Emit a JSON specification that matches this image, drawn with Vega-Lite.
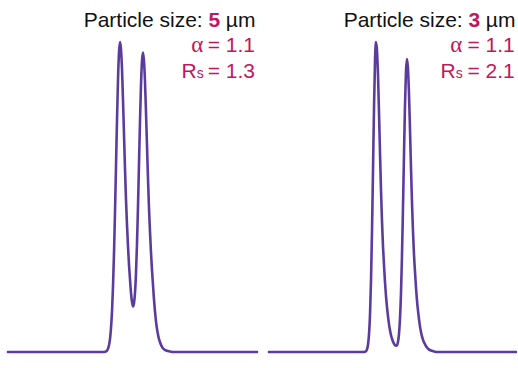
{
  "$schema": "https://vega.github.io/schema/vega-lite/v6.json",
  "width": 518,
  "height": 368,
  "autosize": {"type": "fit", "contains": "padding"},
  "padding": 0,
  "background": "white",
  "config": {"view": {"stroke": null}},
  "datasets": {
    "curves": [
      {"panel": "5 µm", "t": 8, "h": 0},
      {"panel": "5 µm", "t": 60, "h": 0},
      {"panel": "5 µm", "t": 104.5, "h": 0},
      {"panel": "5 µm", "t": 106.5, "h": 0.002},
      {"panel": "5 µm", "t": 107.5, "h": 0.005},
      {"panel": "5 µm", "t": 108.5, "h": 0.011},
      {"panel": "5 µm", "t": 109.5, "h": 0.023},
      {"panel": "5 µm", "t": 110.5, "h": 0.044},
      {"panel": "5 µm", "t": 111.5, "h": 0.08},
      {"panel": "5 µm", "t": 112.5, "h": 0.135},
      {"panel": "5 µm", "t": 113.5, "h": 0.217},
      {"panel": "5 µm", "t": 114.5, "h": 0.325},
      {"panel": "5 µm", "t": 115.5, "h": 0.458},
      {"panel": "5 µm", "t": 116.5, "h": 0.607},
      {"panel": "5 µm", "t": 117.5, "h": 0.755},
      {"panel": "5 µm", "t": 118.5, "h": 0.882},
      {"panel": "5 µm", "t": 119.5, "h": 0.969},
      {"panel": "5 µm", "t": 120.5, "h": 1},
      {"panel": "5 µm", "t": 121.5, "h": 0.975},
      {"panel": "5 µm", "t": 122.5, "h": 0.91},
      {"panel": "5 µm", "t": 123.5, "h": 0.81},
      {"panel": "5 µm", "t": 124.5, "h": 0.7},
      {"panel": "5 µm", "t": 125.5, "h": 0.59},
      {"panel": "5 µm", "t": 126.5, "h": 0.49},
      {"panel": "5 µm", "t": 127.5, "h": 0.41},
      {"panel": "5 µm", "t": 128.5, "h": 0.341},
      {"panel": "5 µm", "t": 129.5, "h": 0.282},
      {"panel": "5 µm", "t": 130.5, "h": 0.235},
      {"panel": "5 µm", "t": 131.5, "h": 0.191},
      {"panel": "5 µm", "t": 132.5, "h": 0.162},
      {"panel": "5 µm", "t": 133.5, "h": 0.147},
      {"panel": "5 µm", "t": 134.5, "h": 0.157},
      {"panel": "5 µm", "t": 135.5, "h": 0.19},
      {"panel": "5 µm", "t": 136.5, "h": 0.253},
      {"panel": "5 µm", "t": 137.5, "h": 0.346},
      {"panel": "5 µm", "t": 138.5, "h": 0.465},
      {"panel": "5 µm", "t": 139.5, "h": 0.601},
      {"panel": "5 µm", "t": 140.5, "h": 0.738},
      {"panel": "5 µm", "t": 141.5, "h": 0.857},
      {"panel": "5 µm", "t": 142.5, "h": 0.937},
      {"panel": "5 µm", "t": 143.5, "h": 0.966},
      {"panel": "5 µm", "t": 144.5, "h": 0.94},
      {"panel": "5 µm", "t": 145.5, "h": 0.877},
      {"panel": "5 µm", "t": 146.5, "h": 0.78},
      {"panel": "5 µm", "t": 147.5, "h": 0.673},
      {"panel": "5 µm", "t": 148.5, "h": 0.566},
      {"panel": "5 µm", "t": 149.5, "h": 0.47},
      {"panel": "5 µm", "t": 150.5, "h": 0.394},
      {"panel": "5 µm", "t": 151.5, "h": 0.326},
      {"panel": "5 µm", "t": 152.5, "h": 0.269},
      {"panel": "5 µm", "t": 153.5, "h": 0.221},
      {"panel": "5 µm", "t": 154.5, "h": 0.173},
      {"panel": "5 µm", "t": 155.5, "h": 0.134},
      {"panel": "5 µm", "t": 156.5, "h": 0.101},
      {"panel": "5 µm", "t": 157.5, "h": 0.077},
      {"panel": "5 µm", "t": 158.5, "h": 0.058},
      {"panel": "5 µm", "t": 159.5, "h": 0.043},
      {"panel": "5 µm", "t": 160.5, "h": 0.033},
      {"panel": "5 µm", "t": 161.5, "h": 0.024},
      {"panel": "5 µm", "t": 162.5, "h": 0.017},
      {"panel": "5 µm", "t": 163.5, "h": 0.012},
      {"panel": "5 µm", "t": 165.5, "h": 0.007},
      {"panel": "5 µm", "t": 168.5, "h": 0.003},
      {"panel": "5 µm", "t": 171.5, "h": 0.001},
      {"panel": "5 µm", "t": 174.5, "h": 0},
      {"panel": "5 µm", "t": 258, "h": 0},
      {"panel": "3 µm", "t": 270, "h": 0},
      {"panel": "3 µm", "t": 364.5, "h": 0},
      {"panel": "3 µm", "t": 366.5, "h": 0.001},
      {"panel": "3 µm", "t": 367.5, "h": 0.003},
      {"panel": "3 µm", "t": 368.5, "h": 0.0095},
      {"panel": "3 µm", "t": 369.5, "h": 0.025},
      {"panel": "3 µm", "t": 370.5, "h": 0.06},
      {"panel": "3 µm", "t": 371.5, "h": 0.126},
      {"panel": "3 µm", "t": 372.5, "h": 0.238},
      {"panel": "3 µm", "t": 373.5, "h": 0.399},
      {"panel": "3 µm", "t": 374.5, "h": 0.596},
      {"panel": "3 µm", "t": 375.5, "h": 0.795},
      {"panel": "3 µm", "t": 376.5, "h": 0.944},
      {"panel": "3 µm", "t": 377.5, "h": 1},
      {"panel": "3 µm", "t": 378.5, "h": 0.97},
      {"panel": "3 µm", "t": 379.5, "h": 0.89},
      {"panel": "3 µm", "t": 380.5, "h": 0.77},
      {"panel": "3 µm", "t": 381.5, "h": 0.64},
      {"panel": "3 µm", "t": 382.5, "h": 0.52},
      {"panel": "3 µm", "t": 383.5, "h": 0.42},
      {"panel": "3 µm", "t": 384.5, "h": 0.34},
      {"panel": "3 µm", "t": 385.5, "h": 0.28},
      {"panel": "3 µm", "t": 386.5, "h": 0.225},
      {"panel": "3 µm", "t": 387.5, "h": 0.18},
      {"panel": "3 µm", "t": 388.5, "h": 0.145},
      {"panel": "3 µm", "t": 389.5, "h": 0.115},
      {"panel": "3 µm", "t": 390.5, "h": 0.09},
      {"panel": "3 µm", "t": 391.5, "h": 0.07},
      {"panel": "3 µm", "t": 392.5, "h": 0.055},
      {"panel": "3 µm", "t": 393.5, "h": 0.043},
      {"panel": "3 µm", "t": 394.5, "h": 0.034},
      {"panel": "3 µm", "t": 395.5, "h": 0.027},
      {"panel": "3 µm", "t": 396.5, "h": 0.022},
      {"panel": "3 µm", "t": 397.5, "h": 0.02},
      {"panel": "3 µm", "t": 398.5, "h": 0.0215},
      {"panel": "3 µm", "t": 399.5, "h": 0.032},
      {"panel": "3 µm", "t": 400.5, "h": 0.057},
      {"panel": "3 µm", "t": 401.5, "h": 0.105},
      {"panel": "3 µm", "t": 402.5, "h": 0.185},
      {"panel": "3 µm", "t": 403.5, "h": 0.304},
      {"panel": "3 µm", "t": 404.5, "h": 0.456},
      {"panel": "3 µm", "t": 405.5, "h": 0.627},
      {"panel": "3 µm", "t": 406.5, "h": 0.786},
      {"panel": "3 µm", "t": 407.5, "h": 0.902},
      {"panel": "3 µm", "t": 408.5, "h": 0.945},
      {"panel": "3 µm", "t": 409.5, "h": 0.917},
      {"panel": "3 µm", "t": 410.5, "h": 0.841},
      {"panel": "3 µm", "t": 411.5, "h": 0.728},
      {"panel": "3 µm", "t": 412.5, "h": 0.605},
      {"panel": "3 µm", "t": 413.5, "h": 0.491},
      {"panel": "3 µm", "t": 414.5, "h": 0.397},
      {"panel": "3 µm", "t": 415.5, "h": 0.321},
      {"panel": "3 µm", "t": 416.5, "h": 0.265},
      {"panel": "3 µm", "t": 417.5, "h": 0.213},
      {"panel": "3 µm", "t": 418.5, "h": 0.17},
      {"panel": "3 µm", "t": 419.5, "h": 0.137},
      {"panel": "3 µm", "t": 420.5, "h": 0.109},
      {"panel": "3 µm", "t": 421.5, "h": 0.085},
      {"panel": "3 µm", "t": 422.5, "h": 0.066},
      {"panel": "3 µm", "t": 423.5, "h": 0.052},
      {"panel": "3 µm", "t": 424.5, "h": 0.041},
      {"panel": "3 µm", "t": 425.5, "h": 0.032},
      {"panel": "3 µm", "t": 426.5, "h": 0.026},
      {"panel": "3 µm", "t": 427.5, "h": 0.02},
      {"panel": "3 µm", "t": 428.5, "h": 0.015},
      {"panel": "3 µm", "t": 430.5, "h": 0.0085},
      {"panel": "3 µm", "t": 433.5, "h": 0.004},
      {"panel": "3 µm", "t": 436.5, "h": 0.001},
      {"panel": "3 µm", "t": 439.5, "h": 0},
      {"panel": "3 µm", "t": 518, "h": 0}
    ],
    "labels": [
      {"panel": "5 µm", "part": "black", "text": "Particle size:", "t": 203.5, "h": 1.047},
      {"panel": "5 µm", "part": "bold", "text": "5", "t": 221.0, "h": 1.047},
      {"panel": "5 µm", "part": "black", "text": "µm", "t": 256.4, "h": 1.047},
      {"panel": "5 µm", "part": "greek", "text": "α", "t": 204.0, "h": 0.969},
      {"panel": "5 µm", "part": "red", "text": "= 1.1", "t": 256.0, "h": 0.969},
      {"panel": "5 µm", "part": "red", "text": "R", "t": 197.5, "h": 0.885},
      {"panel": "5 µm", "part": "sub", "text": "s", "t": 204.5, "h": 0.885},
      {"panel": "5 µm", "part": "red", "text": "= 1.3", "t": 256.0, "h": 0.885},
      {"panel": "3 µm", "part": "black", "text": "Particle size:", "t": 464.5, "h": 1.047},
      {"panel": "3 µm", "part": "bold", "text": "3", "t": 482.0, "h": 1.047},
      {"panel": "3 µm", "part": "black", "text": "µm", "t": 517.4, "h": 1.047},
      {"panel": "3 µm", "part": "greek", "text": "α", "t": 464.0, "h": 0.969},
      {"panel": "3 µm", "part": "red", "text": "= 1.1", "t": 516.8, "h": 0.969},
      {"panel": "3 µm", "part": "red", "text": "R", "t": 457.5, "h": 0.885},
      {"panel": "3 µm", "part": "sub", "text": "s", "t": 464.5, "h": 0.885},
      {"panel": "3 µm", "part": "red", "text": "= 2.1", "t": 516.8, "h": 0.885}
    ]
  },
  "encoding": {
    "x": {"field": "t", "type": "quantitative", "scale": {"domain": [0, 518], "nice": false, "zero": false}, "axis": null},
    "y": {"field": "h", "type": "quantitative", "scale": {"domain": [-0.0516, 1.1355], "nice": false, "zero": false}, "axis": null}
  },
  "layer": [
    {
      "data": {"name": "curves"},
      "mark": {"type": "line", "color": "#5b3c9e", "strokeWidth": 2.6, "interpolate": "monotone", "strokeJoin": "round", "strokeCap": "round"},
      "encoding": {"detail": {"field": "panel"}}
    },
    {
      "data": {"name": "labels"},
      "transform": [{"filter": "datum.part === 'black'"}],
      "mark": {"type": "text", "align": "right", "baseline": "alphabetic", "font": "Liberation Sans", "fontSize": 21, "color": "#111111"},
      "encoding": {"text": {"field": "text"}}
    },
    {
      "data": {"name": "labels"},
      "transform": [{"filter": "datum.part === 'bold'"}],
      "mark": {"type": "text", "align": "right", "baseline": "alphabetic", "font": "Liberation Sans", "fontSize": 21, "fontWeight": "bold", "color": "#c0175d"},
      "encoding": {"text": {"field": "text"}}
    },
    {
      "data": {"name": "labels"},
      "transform": [{"filter": "datum.part === 'red'"}],
      "mark": {"type": "text", "align": "right", "baseline": "alphabetic", "font": "Liberation Sans", "fontSize": 21, "color": "#c0175d"},
      "encoding": {"text": {"field": "text"}}
    },
    {
      "data": {"name": "labels"},
      "transform": [{"filter": "datum.part === 'greek'"}],
      "mark": {"type": "text", "align": "right", "baseline": "alphabetic", "font": "Liberation Serif", "fontSize": 23, "color": "#c0175d"},
      "encoding": {"text": {"field": "text"}}
    },
    {
      "data": {"name": "labels"},
      "transform": [{"filter": "datum.part === 'sub'"}],
      "mark": {"type": "text", "align": "right", "baseline": "alphabetic", "font": "Liberation Sans", "fontSize": 14, "color": "#c0175d"},
      "encoding": {"text": {"field": "text"}}
    }
  ]
}
